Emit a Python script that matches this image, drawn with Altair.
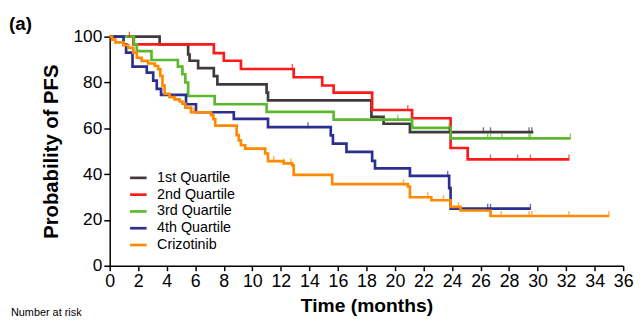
import altair as alt
import pandas as pd

groups = ["1st Quartile", "2nd Quartile", "3rd Quartile", "4th Quartile", "Crizotinib"]
colors = ["#403a3c", "#ff1a1a", "#5cb82e", "#2b2f8f", "#ff8a00"]

q1_t = [0, 3.5, 5.5, 5.6, 6.2, 7.3, 7.55, 11.0, 11.1, 18.35, 19.2, 21.05, 29.7]
q1_s = [100, 96.6, 92.2, 89.5, 86.3, 82.8, 79.2, 75.6, 72.2, 65, 62, 58.3, 58.3]
q1_c = [23.8, 26.2, 26.7, 29.4, 29.6]

q2_t = [0, 1.66, 7.3, 8.0, 9.2, 12.9, 14.9, 15.7, 18.4, 21.2, 23.9, 25.1, 32.2]
q2_s = [100, 96.6, 92.8, 89.5, 85.9, 82.3, 78.7, 75.6, 68, 64.4, 51.4, 46.4, 46.4]
q2_c = [1.38, 12.8, 20.9, 26.7, 28.6, 29.5, 32.2]

q3_t = [0, 1.7, 1.9, 2.93, 4.78, 5.1, 5.3, 5.5, 7.36, 11.0, 15.7, 21.2, 23.9, 32.3]
q3_s = [100, 96.6, 93.7, 89.8, 86.9, 83.6, 80.0, 74.1, 70.5, 67.2, 63.8, 60.2, 55.6, 55.6]
q3_c = [20.2, 23.8, 26.5, 26.7, 27.5, 29.4, 29.5, 32.3]

q4_t = [0, 0.97, 1.15, 1.6, 2.6, 3.05, 3.3, 3.6, 5.35, 6.05, 8.7, 11.1, 15.5, 15.65,
        16.6, 18.4, 18.6, 21.05, 23.8, 23.9, 29.5]
q4_s = [100, 96.6, 93, 86.9, 84.3, 80.8, 77.2, 74.6, 70.5, 67, 64.1, 60.5, 56.9, 53.3,
        49.7, 45.8, 42.5, 39.2, 33.9, 24.9, 24.9]
q4_c = [13.9, 23.7, 26.5, 26.7, 29.5]

cz_t = [0, 0.16, 0.4, 0.97, 1.3, 1.66, 1.9, 2.24, 2.7, 3.16, 3.4, 3.55, 3.7, 3.85, 4.2,
        4.55, 4.9, 5.1, 5.3, 5.7, 7.1, 7.27, 7.4, 8.9, 9.05, 9.2, 9.5, 10.9, 11.1,
        12.2, 12.8, 12.9, 15.6, 20.9, 21.05, 22.55, 23.9, 24.6, 26.7, 35.0]
cz_s = [100, 98.7, 97.5, 96.3, 95.1, 93, 90.8, 89.4, 88.3, 87.2, 85.8, 82.9, 78.6, 75,
        73.6, 72.6, 71.7, 70.7, 69, 67, 65.7, 64, 61.2, 57, 54.7, 52.6, 51.1, 49, 45.7,
        44.7, 43.8, 39.7, 35.6, 34.6, 29.9, 28.6, 25.7, 24.1, 21.7, 21.7]
cz_c = [5.75, 5.9, 11.5, 12.2, 12.7, 20.6, 22.3, 23.4, 24.45, 27.45, 29.4, 29.6, 32.2, 35.0]

x_ticks = list(range(0, 37, 2))
y_ticks = [0, 20, 40, 60, 80, 100]

series = [(groups[0], q1_t, q1_s, q1_c), (groups[1], q2_t, q2_s, q2_c),
          (groups[2], q3_t, q3_s, q3_c), (groups[3], q4_t, q4_s, q4_c),
          (groups[4], cz_t, cz_s, cz_c)]


def surv_at(ts, ss, t):
    v = ss[0]
    for a, b in zip(ts, ss):
        if a <= t:
            v = b
    return v


rows, cens = [], []
for order, (g, ts, ss, cs) in enumerate(series):
    for a, b in zip(ts, ss):
        rows.append({"group": g, "time": a, "surv": b, "o": order})
    for c in cs:
        cens.append({"group": g, "time": c, "surv": surv_at(ts, ss, c)})
df = pd.DataFrame(rows)
dc = pd.DataFrame(cens)

font = "Liberation Sans"
xs = alt.Scale(domain=[0, 36], nice=False)
ys = alt.Scale(domain=[0, 100], nice=False)
cs = alt.Scale(domain=groups, range=colors)

x_axis = alt.Axis(values=x_ticks, titlePadding=6, labelOverlap=False, labelFlush=False,
                  labelBound=False, labelFontSize=18, titleFontSize=19.5, tickSize=5)
y_axis = alt.Axis(values=y_ticks, titlePadding=12, labelOverlap=False, labelFlush=False,
                  labelFontSize=17.5, titleFontSize=20.5, tickSize=6)

lines = alt.Chart(df).mark_line(interpolate="step-after", strokeWidth=2.7).encode(
    x=alt.X("time:Q", scale=xs, title="Time (months)", axis=x_axis),
    y=alt.Y("surv:Q", scale=ys, title="Probability of PFS", axis=y_axis),
    color=alt.Color("group:N", scale=cs, title=None,
                    legend=alt.Legend(orient="none", legendX=19, legendY=133,
                                      symbolType="stroke", symbolSize=280,
                                      symbolStrokeWidth=2.7, labelFontSize=14.5,
                                      labelFont=font, labelColor="black",
                                      labelOffset=9, rowPadding=0, padding=0)),
    detail="group:N",
    order=alt.Order("time:Q"),
)

ticks = alt.Chart(dc).mark_tick(orient="vertical", size=6, thickness=1.4, yOffset=-2).encode(
    x=alt.X("time:Q", scale=xs, title="Time (months)", axis=x_axis),
    y=alt.Y("surv:Q", scale=ys, title="Probability of PFS", axis=y_axis),
    color=alt.Color("group:N", scale=cs, legend=None),
)

label_a = alt.Chart(pd.DataFrame({"t": ["(a)"]})).mark_text(
    align="left", baseline="middle", fontWeight="bold", fontSize=19, font=font, color="black"
).encode(x=alt.value(-102), y=alt.value(-13), text="t:N")

risk = alt.Chart(pd.DataFrame({"t": ["Number at risk"]})).mark_text(
    align="left", baseline="top", fontSize=11, font=font, color="black"
).encode(x=alt.value(-100), y=alt.value(274), text="t:N")

chart = alt.layer(lines, ticks, label_a, risk).properties(
    width=520, height=232,
    autosize=alt.AutoSizeParams(type="none"),
    padding={"left": 103, "top": 27, "right": 13, "bottom": 60},
).configure_view(stroke=None).configure_axis(
    grid=False, domainColor="black", domainWidth=1.5, tickColor="black", tickWidth=1.5,
    labelFont=font, labelColor="black", labelPadding=2,
    titleFont=font, titleFontWeight="bold", titleColor="black",
    labelOverlap=False, labelFlush=False,
)

chart.save("out.html", embed_options={"renderer": "svg", "actions": False})
